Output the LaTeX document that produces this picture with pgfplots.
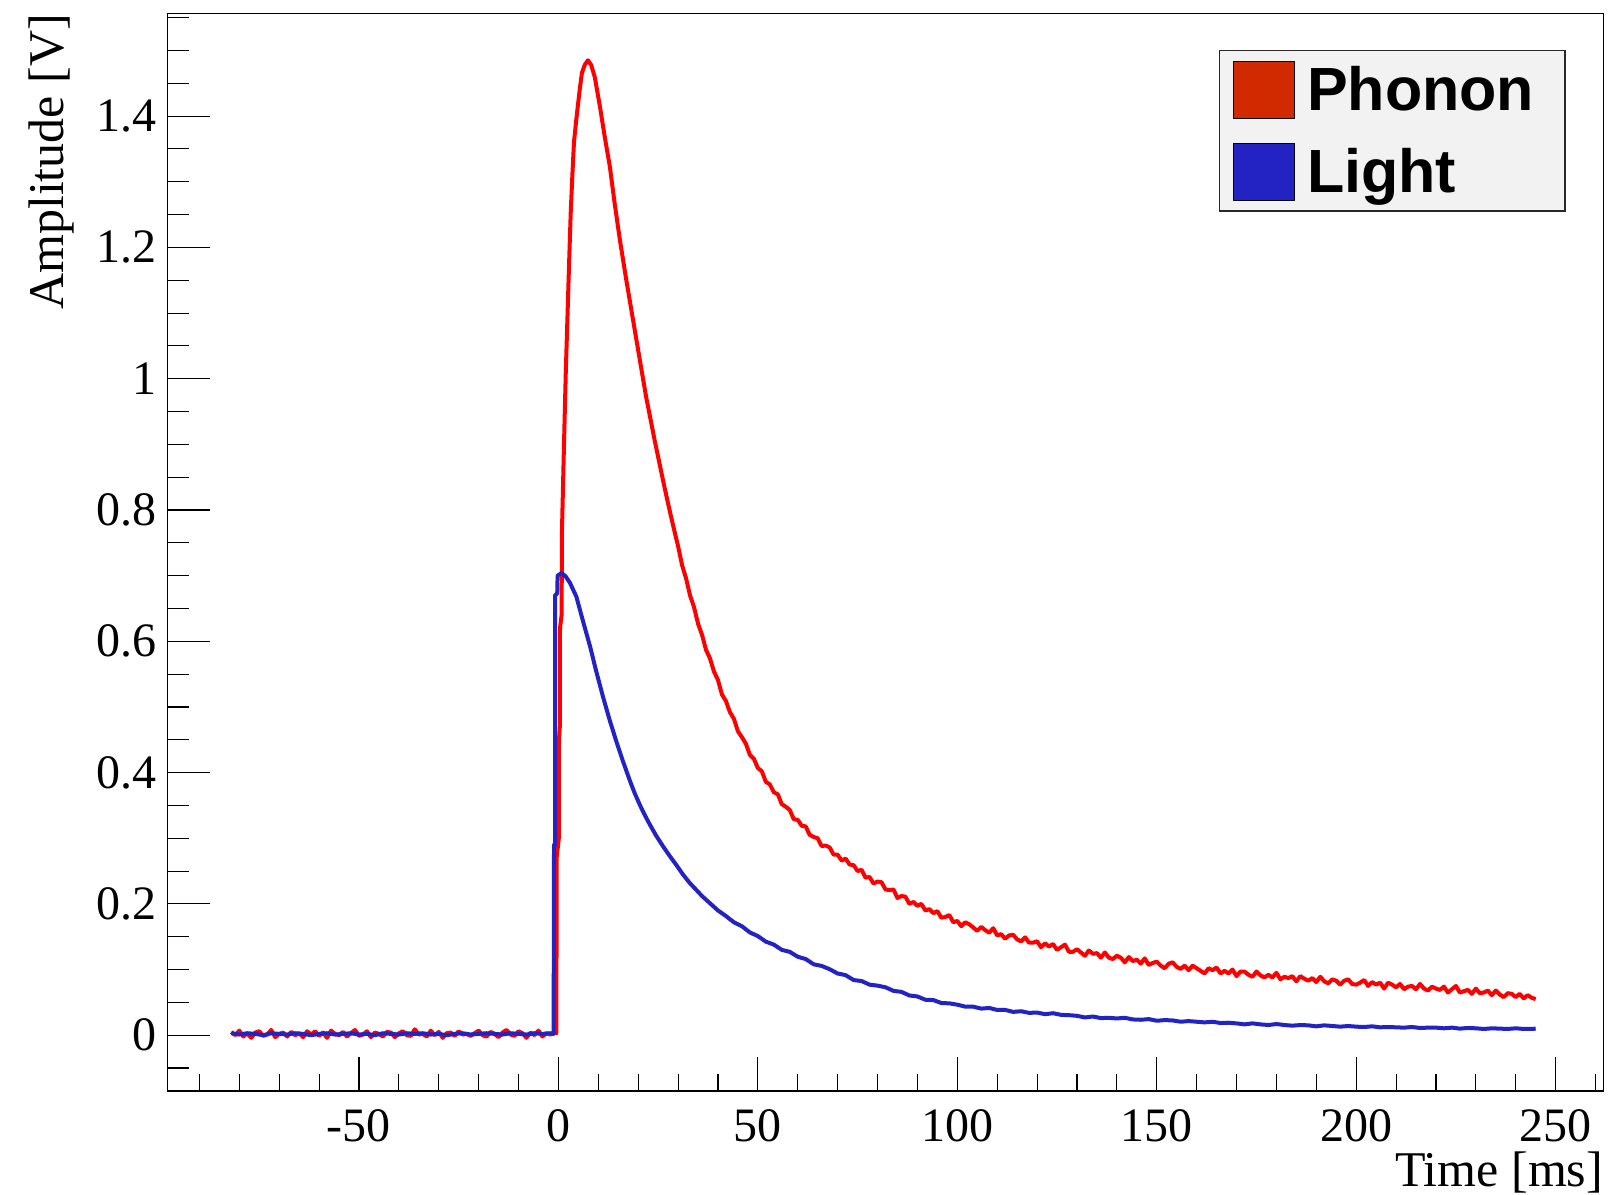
\documentclass[border=0pt]{standalone}
\usepackage{fontspec}
\setmainfont{Liberation Serif}
\newfontfamily\legendfont{Liberation Sans}
\usepackage{pgfplots}
\pgfplotsset{compat=1.18}
\definecolor{phononline}{RGB}{255,0,0}
\definecolor{lightline}{RGB}{35,35,195}
\definecolor{phononfill}{RGB}{210,42,0}
\definecolor{legendgray}{RGB}{242,242,242}
\definecolor{legendborder}{RGB}{40,40,40}
\begin{document}
\begin{tikzpicture}
\begin{axis}[
  scale only axis,
  width=718pt, height=538.65pt,
  at={(0,0)}, anchor=south west,
  clip mode=individual,
  xmin=-98, xmax=262, ymin=-0.085, ymax=1.556,
  axis line style={line width=0.7pt, black},
  tick align=inside,
  xtick pos=left, ytick pos=left,
  xtick={-50,0,50,100,150,200,250},
  minor xtick={-90,-80,-70,-60,-40,-30,-20,-10,10,20,30,40,60,70,80,90,110,120,130,140,160,170,180,190,210,220,230,240,260},
  ytick={0,0.2,0.4,0.6,0.8,1,1.2,1.4},
  minor ytick={-0.05,0.05,0.1,0.15,0.25,0.3,0.35,0.45,0.5,0.55,0.65,0.7,0.75,0.85,0.9,0.95,1.05,1.1,1.15,1.25,1.3,1.35,1.45,1.5,1.55},
  xtick style={line width=0.55pt, black, /pgfplots/major tick length=17pt, /pgfplots/minor tick length=8.75pt},
  ytick style={line width=0.55pt, black, /pgfplots/major tick length=21.5pt, /pgfplots/minor tick length=11pt},
  /pgf/number format/assume math mode=true,
  tick label style={font=\fontsize{24}{24}\selectfont},
  yticklabel style={anchor=east, inner sep=0pt, xshift=-5.3pt},
  xticklabel style={anchor=north, inner sep=0pt, yshift=-9pt},
  legend cell align=left,
  legend style={at={(rel axis cs:1,1)}, anchor=north east, xshift=-18.9pt, yshift=-18.2pt,
    fill=legendgray, draw=legendborder, line width=0.65pt,
    inner xsep=7pt, inner ysep=5.3pt, row sep=12pt,
    font=\legendfont\bfseries\fontsize{30.5}{30.5}\selectfont,
    nodes={inner sep=0pt},
    /tikz/every odd column/.append style={column sep=6pt}},
]
\addplot[phononline, line width=2pt, line join=round,
  legend image code/.code={\draw[fill=phononfill, draw=black, line width=0.5pt] (0pt,-14.15pt) rectangle (30.3pt,14.15pt);}]
coordinates {
(-82,0.005)(-81,0.000)(-80,0.007)(-79,-0.002)(-78,0.003)(-77,-0.004)(-76,0.004)(-75,0.006)(-74,-0.001)(-73,0.001)(-72,0.008)(-71,-0.003)(-70,0.002)(-69,0.004)(-68,-0.002)(-67,0.005)(-66,0.000)(-65,0.003)(-64,-0.003)(-63,0.006)
(-62,0.001)(-61,0.006)(-60,-0.001)(-59,0.004)(-58,-0.004)(-57,0.007)(-56,0.002)(-55,0.000)(-54,0.005)(-53,-0.002)(-52,0.003)(-51,0.008)(-50,-0.001)(-49,0.001)(-48,0.006)(-47,-0.003)(-46,0.004)(-45,0.002)(-44,-0.002)(-43,0.005)
(-42,0.004)(-41,-0.003)(-40,0.003)(-39,0.006)(-38,0.000)(-37,-0.001)(-36,0.009)(-35,0.001)(-34,0.002)(-33,-0.002)(-32,0.007)(-31,0.000)(-30,0.005)(-29,-0.004)(-28,0.003)(-27,0.004)(-26,-0.001)(-25,0.006)(-24,0.001)(-23,0.002)
(-22,-0.001)(-21,0.003)(-20,0.007)(-19,0.000)(-18,-0.002)(-17,0.005)(-16,0.002)(-15,-0.003)(-14,0.004)(-13,0.008)(-12,0.001)(-11,-0.001)(-10,0.006)(-9,0.003)(-8,-0.004)(-7,0.004)(-6,0.000)(-5,0.007)(-4,-0.002)(-3,0.003)(-2,0.001)(-1,0.004)
(-0.5,0.003)(-0.45,0.27)(0.1,0.30)(0.15,0.45)(0.35,0.47)(0.4,0.62)(0.8,0.64)(0.9,0.77)(1.4,0.90)(1.85,1.01)(2.3,1.10)(2.7,1.18)(3.1,1.255)(3.5,1.31)(3.9,1.36)(4.4,1.39)(4.9,1.417)(5.4,1.443)(5.9,1.466)(6.6,1.478)(7.4,1.485)(8.2,1.478)(9.1,1.460)(10.4,1.415)(11.6,1.369)(12.9,1.323)(14.1,1.267)(15.4,1.212)(17,1.151)(18.7,1.090)(20.4,1.029)(22,0.972)(24.1,0.907)(26.2,0.846)(27.2,0.818)(28.2,0.791)(29.2,0.765)
(30,0.745)(31,0.716)(32,0.696)(33,0.670)(34,0.652)(35,0.627)(36,0.610)(37,0.587)(38,0.574)(39,0.554)(40,0.541)(41,0.519)(42,0.509)(43,0.492)(44,0.482)(45,0.463)(46,0.454)(47,0.444)(48,0.427)(49,0.421)
(50,0.407)(51,0.402)(52,0.386)(53,0.382)(54,0.370)(55,0.367)(56,0.352)(57,0.348)(58,0.343)(59,0.329)(60,0.328)(61,0.319)(62,0.318)(63,0.305)(64,0.302)(65,0.300)(66,0.288)(67,0.289)(68,0.286)(69,0.275)
(70,0.275)(71,0.266)(72,0.269)(73,0.260)(74,0.259)(75,0.250)(76,0.252)(77,0.240)(78,0.241)(79,0.231)(80,0.234)(81,0.233)(82,0.222)(83,0.221)(84,0.222)(85,0.209)(86,0.212)(87,0.211)(88,0.200)(89,0.203)
(90,0.197)(91,0.200)(92,0.190)(93,0.192)(94,0.186)(95,0.189)(96,0.179)(97,0.180)(98,0.183)(99,0.172)(100,0.174)(101,0.166)(102,0.172)(103,0.169)(104,0.164)(105,0.159)(106,0.165)(107,0.160)(108,0.156)(109,0.163)
(110,0.152)(111,0.154)(112,0.147)(113,0.152)(114,0.153)(115,0.146)(116,0.143)(117,0.149)(118,0.141)(119,0.141)(120,0.143)(121,0.134)(122,0.140)(123,0.135)(124,0.139)(125,0.130)(126,0.134)(127,0.138)(128,0.127)(129,0.127)
(130,0.131)(131,0.126)(132,0.121)(133,0.129)(134,0.124)(135,0.125)(136,0.118)(137,0.126)(138,0.118)(139,0.116)(140,0.121)(141,0.118)(142,0.111)(143,0.119)(144,0.113)(145,0.115)(146,0.109)(147,0.117)(148,0.107)(149,0.110)
(150,0.112)(151,0.106)(152,0.102)(153,0.109)(154,0.111)(155,0.104)(156,0.101)(157,0.106)(158,0.099)(159,0.106)(160,0.102)(161,0.098)(162,0.094)(163,0.102)(164,0.099)(165,0.103)(166,0.094)(167,0.098)(168,0.094)(169,0.100)
(170,0.090)(171,0.097)(172,0.097)(173,0.092)(174,0.089)(175,0.097)(176,0.091)(177,0.088)(178,0.092)(179,0.088)(180,0.095)(181,0.085)(182,0.089)(183,0.087)(184,0.090)(185,0.082)(186,0.090)(187,0.086)(188,0.083)(189,0.087)
(190,0.081)(191,0.089)(192,0.082)(193,0.079)(194,0.085)(195,0.083)(196,0.077)(197,0.083)(198,0.085)(199,0.078)(200,0.077)(201,0.080)(202,0.084)(203,0.075)(204,0.081)(205,0.077)(206,0.080)(207,0.071)(208,0.080)(209,0.077)
(210,0.073)(211,0.078)(212,0.070)(213,0.074)(214,0.075)(215,0.070)(216,0.078)(217,0.071)(218,0.068)(219,0.074)(220,0.071)(221,0.069)(222,0.074)(223,0.065)(224,0.070)(225,0.075)(226,0.065)(227,0.067)(228,0.069)(229,0.063)
(230,0.071)(231,0.064)(232,0.065)(233,0.068)(234,0.061)(235,0.068)(236,0.062)(237,0.058)(238,0.064)(239,0.063)(240,0.058)(241,0.063)(242,0.056)(243,0.061)(244,0.057)(245,0.055)
};
\addlegendentry{Phonon\kern 8.5pt}
\addplot[lightline, line width=2pt, line join=round,
  legend image code/.code={\draw[fill=lightline, draw=black, line width=0.5pt] (0pt,-14.15pt) rectangle (30.3pt,14.15pt);}]
coordinates {
(-82,0.003)(-80,0.001)(-78,0.003)(-76,0.002)(-74,0.000)(-72,0.003)(-70,0.002)(-68,0.001)(-66,0.003)(-64,0.002)(-62,0.000)(-60,0.002)(-58,0.003)(-56,0.001)(-54,0.002)(-52,0.003)(-50,0.001)(-48,0.002)(-46,0.000)(-44,0.003)
(-42,0.002)(-40,0.001)(-38,0.003)(-36,0.002)(-34,0.003)(-32,0.001)(-30,0.002)(-28,0.000)(-26,0.002)(-24,0.003)(-22,0.001)(-20,0.002)(-18,0.003)(-16,0.002)(-14,0.001)(-12,0.003)(-10,0.002)(-8,0.001)(-6,0.003)(-4,0.002)(-2,0.003)
(-1.2,0.002)(-1.1,0.29)(-0.85,0.29)(-0.85,0.67)(-0.3,0.673)(-0.2,0.700)(0.8,0.704)(1.8,0.699)(2.9,0.689)(4.5,0.668)(6.2,0.630)(7.9,0.593)(9.5,0.554)(11.2,0.515)(12.9,0.479)(14.5,0.448)(16.2,0.417)(17.9,0.388)(19.1,0.369)(20.4,0.351)(21.6,0.336)(22.9,0.321)(24.5,0.304)(26.2,0.288)(27.9,0.273)(29.6,0.259)(31.2,0.245)(32.9,0.232)
(34,0.225)(36,0.212)(38,0.201)(40,0.190)(42,0.1815)(44,0.172)(46,0.166)(48,0.1565)(50,0.151)(52,0.1425)(54,0.138)(56,0.130)(58,0.127)(60,0.1195)(62,0.116)(64,0.108)(66,0.1055)(68,0.1005)(70,0.094)(72,0.0915)
(74,0.084)(76,0.0825)(78,0.077)(80,0.0755)(82,0.073)(84,0.0675)(86,0.066)(88,0.0605)(90,0.059)(92,0.054)(94,0.0535)(96,0.049)(98,0.0485)(100,0.0465)(102,0.0435)(104,0.0435)(106,0.0405)(108,0.0415)(110,0.0385)(112,0.0385)
(114,0.0355)(116,0.0365)(118,0.034)(120,0.0345)(122,0.032)(124,0.0335)(126,0.031)(128,0.0305)(130,0.0295)(132,0.027)(134,0.0285)(136,0.026)(138,0.0265)(140,0.0255)(142,0.0265)(144,0.024)(146,0.0235)(148,0.0245)(150,0.022)(152,0.023)
(154,0.0225)(156,0.0205)(158,0.0215)(160,0.0205)(162,0.0195)(164,0.0205)(166,0.0185)(168,0.019)(170,0.018)(172,0.0165)(174,0.018)(176,0.0165)(178,0.0155)(180,0.017)(182,0.0155)(184,0.0145)(186,0.0155)(188,0.015)(190,0.0135)(192,0.015)
(194,0.014)(196,0.013)(198,0.014)(200,0.013)(202,0.0125)(204,0.0135)(206,0.012)(208,0.0125)(210,0.012)(212,0.0115)(214,0.0125)(216,0.011)(218,0.0115)(220,0.0115)(222,0.0105)(224,0.0115)(226,0.010)(228,0.011)(230,0.0105)(232,0.0095)
(234,0.0105)(236,0.010)(238,0.0095)(240,0.0105)(242,0.0095)(244,0.0095)(245,0.010)
};
\addlegendentry{Light}
\node[anchor=base east, rotate=90, inner sep=0pt, font=\fontsize{25}{25}\selectfont] at (rel axis cs:-0.07242,1) {Amplitude [V]};
\node[anchor=base east, inner sep=0pt, font=\fontsize{25}{25}\selectfont] at (rel axis cs:1,-0.0885) {Time [ms]};
\end{axis}
\pgfresetboundingbox
\path[use as bounding box] (-83.75pt,-52pt) rectangle (722.75pt,545.5pt);
\end{tikzpicture}
\end{document}
